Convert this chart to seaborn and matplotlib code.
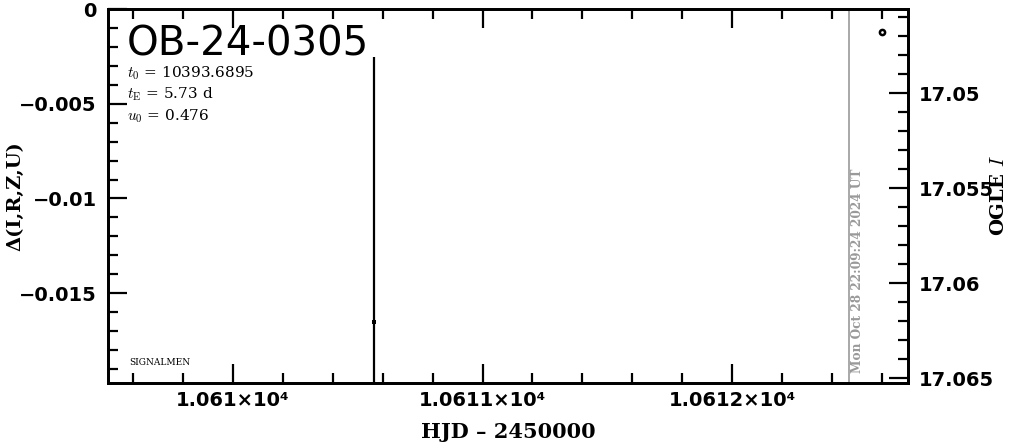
import matplotlib
matplotlib.use('Agg')
import matplotlib.pyplot as plt
import matplotlib.ticker as mticker
import matplotlib.transforms as mtransforms
import seaborn as sns
import pandas as pd
import numpy as np

# data
delta_hjd = [10610.565]
delta_mag = [-0.01653]
delta_err = [0.0140]

ogle_hjd = [10612.601]
ogle_mag = [17.04677]

now_hjd = 10612.469
now_label = 'Mon Oct 28 22:09:24 2024 UT'

event_name = 'OB-24-0305'
params = [r'$t_0$ = 10393.6895', r'$t_{\rm E}$ = 5.73 d', r'$u_0$ = 0.476']

x_ticks = [10610, 10611, 10612]
x_ticklabels = ['1.061×10⁴', '1.0611×10⁴', '1.0612×10⁴']

sns.set_style('ticks')
plt.rcParams['font.family'] = ['DejaVu Sans']
plt.rcParams['mathtext.fontset'] = 'cm'
plt.rcParams['xtick.color'] = 'black'
plt.rcParams['ytick.color'] = 'black'
plt.rcParams['axes.edgecolor'] = 'black'
plt.rcParams['text.color'] = 'black'
plt.rcParams['axes.labelcolor'] = 'black'

fig = plt.figure(figsize=(10.11, 4.42), dpi=100)
ax = fig.add_axes([0.1068, 0.1335, 0.7913, 0.8461])

df = pd.DataFrame({'hjd': delta_hjd, 'dmag': delta_mag, 'err': delta_err})
ax.errorbar(df['hjd'], df['dmag'], yerr=df['err'], fmt='none', ecolor='black',
            elinewidth=1.6, capsize=0)
sns.scatterplot(data=df, x='hjd', y='dmag', ax=ax, color='black', s=6,
                marker='s', linewidth=0, zorder=3)

ax.set_xlim(10609.499, 10612.705)
ax.set_ylim(-0.01974, 0)
ax.set_xticks(x_ticks)
ax.set_xticklabels(x_ticklabels)
ax.xaxis.set_minor_locator(mticker.MultipleLocator(0.2))
ax.set_yticks([0, -0.005, -0.01, -0.015])
ax.set_yticklabels(['0', '−0.005', '−0.01', '−0.015'])
ax.yaxis.set_minor_locator(mticker.MultipleLocator(0.001))

ax.tick_params(axis='both', which='major', direction='in', length=14, width=1.6,
               labelsize=14, top=True, right=False, pad=8)
ax.tick_params(axis='x', which='major', pad=6)
ax.tick_params(axis='both', which='minor', direction='in', length=7, width=1.6,
               top=True, right=False)
for lab in ax.get_xticklabels() + ax.get_yticklabels():
    lab.set_fontweight('bold')
for sp in ax.spines.values():
    sp.set_linewidth(2)
    sp.set_visible(True)

ax.set_xlabel('HJD – 2450000', family='DejaVu Serif', fontweight='bold',
              fontsize=15)
ax.xaxis.set_label_coords(0.5, -0.105)
ax.set_ylabel('Δ(I,R,Z,U)', family='DejaVu Serif', fontweight='bold',
              fontsize=14)
ax.yaxis.set_label_coords(-0.104, 0.5)

# right axis: OGLE I magnitude
ax2 = ax.twinx()
odf = pd.DataFrame({'hjd': ogle_hjd, 'mag': ogle_mag})
sns.scatterplot(data=odf, x='hjd', y='mag', ax=ax2, facecolor='white',
                edgecolor='black', s=14, linewidth=1.8, zorder=3)
ax2.set_ylim(17.06526, 17.04558)
ax2.set_yticks([17.05, 17.055, 17.06, 17.065])
ax2.set_yticklabels(['17.05', '17.055', '17.06', '17.065'])
ax2.yaxis.set_minor_locator(mticker.MultipleLocator(0.001))
ax2.tick_params(axis='y', which='major', direction='in', length=14, width=1.6,
                labelsize=14, pad=8)
ax2.tick_params(axis='y', which='minor', direction='in', length=7, width=1.6)
for lab in ax2.get_yticklabels():
    lab.set_fontweight('bold')
ax2.set_ylabel(r'OGLE $I$', family='DejaVu Serif', fontweight='bold',
               fontsize=14)
ax2.yaxis.set_label_coords(1.103, 0.5)
for sp in ax2.spines.values():
    sp.set_linewidth(2)

# "now" line
ax.axvline(now_hjd, color='#999999', linewidth=1.2, zorder=1)
trans = mtransforms.blended_transform_factory(ax.transData, ax.transAxes)
ax.text(now_hjd + 0.008, 0.027, now_label, transform=trans, rotation=90,
        color='#999999', fontsize=8.7, fontweight='bold', family='DejaVu Serif',
        ha='left', va='bottom')

# labels
ax.text(0.024, 0.958, event_name, transform=ax.transAxes, fontsize=29,
        ha='left', va='top')
for i, p in enumerate(params):
    ax.text(0.024, 0.852 - i * 0.0575, p, transform=ax.transAxes, fontsize=11,
            family='DejaVu Serif', ha='left', va='top')
ax.text(0.027, 0.056, 'SIGNALMEN', transform=ax.transAxes, fontsize=6.5,
        family='DejaVu Serif', ha='left', va='center')

fig.savefig('out.png', dpi=100)
